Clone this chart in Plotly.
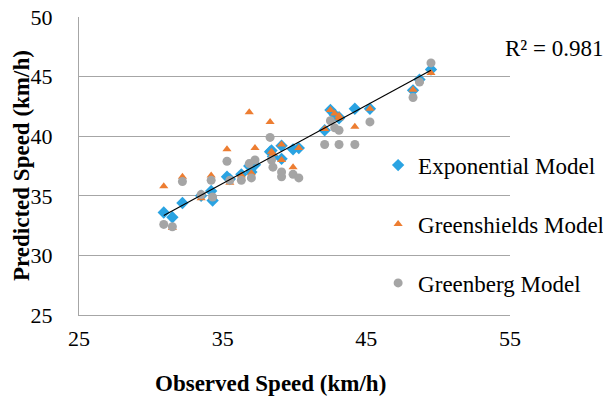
import numpy as np
import plotly.graph_objects as go

# Observed speeds (km/h)
observed = [30.9, 31.5, 32.2, 33.5, 34.2, 34.3, 35.3, 35.5, 36.3, 36.85,
            37.0, 37.25, 38.3, 38.4, 38.5, 39.1, 39.1, 39.9, 40.3, 42.1,
            42.5, 42.8, 43.1, 43.1, 44.2, 45.25, 48.25, 48.7, 49.5]
# Predicted speeds (km/h)
exponential = [33.6, 33.2, 34.4, 35.0, 35.4, 34.6, 36.6, 36.4, 36.8, 37.5,
               37.0, 37.6, 38.7, 38.8, 38.3, 39.2, 38.1, 38.9, 39.0, 40.5,
               42.2, 41.8, 41.6, 41.5, 42.3, 42.3, 43.85, 44.75, 45.6]
greenshields = [35.8, 32.3, 36.6, 34.8, 36.7, 34.9, 38.9, 36.1, 36.7, 42.0,
                36.9, 39.0, 41.2, 38.7, 38.5, 39.3, 38.0, 37.4, 39.0, 40.6,
                42.2, 41.9, 41.7, 41.5, 40.8, 42.3, 43.9, 44.6, 45.3]
greenberg = [32.6, 32.4, 36.2, 35.1, 36.3, 34.9, 37.9, 36.3, 36.3, 37.7,
             36.5, 38.0, 39.9, 38.0, 37.4, 37.0, 36.6, 36.8, 36.5, 39.3,
             41.3, 40.7, 40.5, 39.3, 39.3, 41.2, 43.25, 44.55, 46.15]
r2_label = "R² = 0.981"

x_ticks = [25, 35, 45, 55]
y_ticks = [25, 30, 35, 40, 45, 50]

FONT = "Liberation Serif, Times New Roman, serif"

# linear trendline through the Exponential model points
slope, intercept = np.polyfit(observed, exponential, 1)
trend_x = np.array([min(observed), max(observed)])
trend_y = slope * trend_x + intercept

fig = go.Figure()
fig.add_trace(go.Scatter(x=observed, y=exponential, mode="markers", name="Exponential Model",
                         legendgroup="a",
                         marker=dict(symbol="diamond", size=9.5, color="#2AA3E2")))
fig.add_trace(go.Scatter(x=observed, y=greenshields, mode="markers", name="Greenshields Model",
                         legendgroup="b",
                         marker=dict(symbol="triangle-up", size=8, color="#ED7D31")))
fig.add_trace(go.Scatter(x=observed, y=greenberg, mode="markers", name="Greenberg Model",
                         legendgroup="c",
                         marker=dict(symbol="circle", size=9, color="#A5A5A5")))
fig.add_trace(go.Scatter(x=trend_x, y=trend_y, mode="lines", showlegend=False,
                         line=dict(color="black", width=1.2), hoverinfo="skip"))

# the page body adds an 8 px offset, so the figure is 8 px smaller
fig.update_layout(
    width=603, height=392,
    margin=dict(l=71, r=101, t=9, b=85, autoexpand=False),
    paper_bgcolor="white", plot_bgcolor="white",
    font=dict(family=FONT, size=23, color="black"),
    showlegend=True,
    legend=dict(x=0.694, xanchor="left", y=0.575, yanchor="top",
                traceorder="grouped", tracegroupgap=26,
                bgcolor="rgba(0,0,0,0)", font=dict(size=23, family=FONT)),
    xaxis=dict(range=[25, 55], tickvals=x_ticks, showgrid=False, zeroline=False,
               showline=True, linecolor="#A6A6A6", linewidth=1,
               ticklabelstandoff=4, ticklabeloverflow="allow", tickfont=dict(size=22)),
    yaxis=dict(range=[25, 50], tickvals=y_ticks, showgrid=True, gridcolor="#A6A6A6",
               gridwidth=1, zeroline=False, showline=True, linecolor="#A6A6A6",
               linewidth=1, ticklabelstandoff=21, ticklabeloverflow="allow",
               tickfont=dict(size=22)),
    annotations=[
        dict(text=r2_label, xref="paper", yref="paper", x=0.984, y=0.893,
             xanchor="left", yanchor="middle", showarrow=False, font=dict(size=23)),
        dict(text="<b>Observed Speed (km/h)</b>", xref="paper", yref="paper",
             x=(270 - 79) / 431, y=-(384 - 315) / 298.3, xanchor="center", yanchor="middle",
             showarrow=False, font=dict(size=23)),
        dict(text="<b>Predicted Speed (km/h)</b>", xref="paper", yref="paper",
             x=-(79 - 21) / 431, y=0.5, xanchor="center", yanchor="middle",
             textangle=-90, showarrow=False, font=dict(size=23)),
    ],
)

fig.write_html("out.html")
